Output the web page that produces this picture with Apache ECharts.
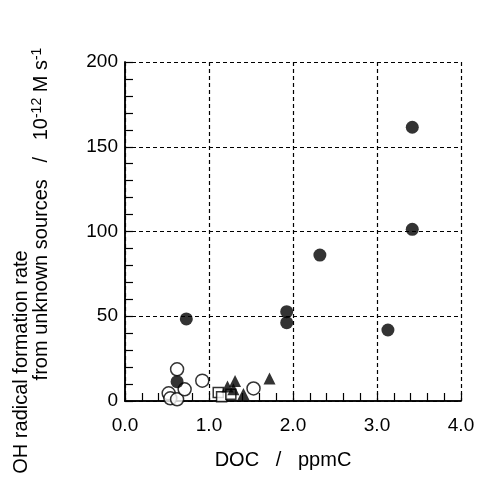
<!DOCTYPE html>
<html>
<head>
<meta charset="utf-8">
<script src="https://cdn.jsdelivr.net/npm/echarts@6/dist/echarts.min.js"></script>
<style>
html,body{margin:0;padding:0;background:#fff;}
#c{width:478px;height:482px;}
</style>
</head>
<body>
<div id="c"></div>
<script>
// Data
const openCircleX = [0.62, 0.52, 0.54, 0.62, 0.71, 0.92, 1.53];
const openCircleY = [18.7, 4.5, 1.6, 1.0, 6.9, 12.0, 7.4];
const filledCircleX = [0.62, 0.73, 1.925, 1.925, 2.32, 3.13, 3.42, 3.42];
const filledCircleY = [11.4, 48.4, 52.7, 46.2, 86.1, 41.9, 101.3, 161.5];
const squareX = [1.11, 1.15, 1.26];
const squareY = [5.0, 2.5, 4.0];
const triangleX = [1.22, 1.31, 1.29, 1.41, 1.72];
const triangleY = [8.6, 11.8, 7.0, 4.2, 13.3];

const xTicks = [0, 1, 2, 3, 4];
const yTicks = [0, 50, 100, 150, 200];
const xMinorStep = 0.2;
const yMinorStep = 10;

const xName = 'DOC   /   ppmC';
const yNameLine1 = 'OH radical formation rate';
const yNameLine2 = '{a|from unknown sources   /   10}{s|-12}{a| M s}{s|-1}';

function pairs(xs, ys) { return xs.map((x, i) => [x, ys[i]]); }

const FONT = '"Liberation Sans", Arial, Helvetica, sans-serif';
const axisLine = { show: true, lineStyle: { color: '#000', width: 1.5 } };
const gridRect = { left: 125, right: 17, top: 62, bottom: 81, containLabel: false };
const xMin = xTicks[0], xMax = xTicks[xTicks.length - 1];
const yMin = yTicks[0], yMax = yTicks[yTicks.length - 1];
const TICK_LEN = 4;

// Tick-only axes: shifted inward by the tick length so that the (outward)
// ticks end exactly on the frame, i.e. they appear as inside ticks.
function tickAxis(kind, gridIndex, position, step) {
  return {
    type: 'value', gridIndex: gridIndex, position: position, offset: -TICK_LEN,
    min: kind === 'x' ? xMin : yMin, max: kind === 'x' ? xMax : yMax, interval: step,
    axisLine: { show: false },
    axisTick: { show: true, inside: false, length: TICK_LEN, lineStyle: { color: '#000', width: 1.2 } },
    splitLine: { show: false },
    axisLabel: { show: false }
  };
}

function frameAxis(kind, gridIndex, position) {
  return {
    type: 'value', gridIndex: gridIndex, position: position,
    min: kind === 'x' ? xMin : yMin, max: kind === 'x' ? xMax : yMax,
    axisLine: axisLine, axisTick: { show: false }, splitLine: { show: false }, axisLabel: { show: false }
  };
}

const chart = echarts.init(document.getElementById('c'), null, { renderer: 'canvas' });
chart.setOption({
  backgroundColor: '#fff',
  animation: false,
  grid: [Object.assign({}, gridRect), Object.assign({}, gridRect), Object.assign({}, gridRect)],
  xAxis: [{
    type: 'value', gridIndex: 0, min: xMin, max: xMax, interval: 1,
    position: 'bottom',
    axisLine: axisLine,
    axisTick: { show: false },
    splitLine: { show: true, lineStyle: { color: '#000', type: [4, 3], width: 1.2 } },
    axisLabel: { margin: 15, color: '#000', fontSize: 19, fontFamily: FONT, formatter: v => v.toFixed(1) },
    name: xName, nameLocation: 'middle', nameGap: 49,
    nameTextStyle: { color: '#000', fontSize: 20, fontFamily: FONT, padding: [0, 20, 0, 0] }
  },
  tickAxis('x', 1, 'bottom', xMinorStep),
  tickAxis('x', 1, 'top', xMinorStep),
  frameAxis('x', 2, 'top')],
  yAxis: [{
    type: 'value', gridIndex: 0, min: yMin, max: yMax, interval: 50,
    position: 'left',
    axisLine: axisLine,
    axisTick: { show: false },
    splitLine: { show: true, lineStyle: { color: '#000', type: [4, 3], width: 1.2 } },
    axisLabel: { margin: 7, color: '#000', fontSize: 19, fontFamily: FONT }
  },
  tickAxis('y', 1, 'left', yMinorStep),
  tickAxis('y', 1, 'right', yMinorStep),
  frameAxis('y', 2, 'right')],
  graphic: [{
    type: 'text', x: 21, y: 362, rotation: Math.PI / 2,
    style: { text: yNameLine1, font: '20px ' + FONT, fill: '#000', textAlign: 'center', textVerticalAlign: 'middle' }
  }, {
    type: 'text', x: 41, y: 214, rotation: Math.PI / 2,
    style: {
      text: yNameLine2, fill: '#000', textAlign: 'center', textVerticalAlign: 'middle',
      font: '20px ' + FONT,
      rich: {
        a: { fontSize: 20, fontFamily: FONT, fill: '#000', lineHeight: 22 },
        s: { fontSize: 14, fontFamily: FONT, fill: '#000', verticalAlign: 'top', lineHeight: 22 }
      }
    }
  }],
  series: [{
    type: 'scatter', xAxisIndex: 0, yAxisIndex: 0,
    data: pairs(openCircleX, openCircleY), symbol: 'circle', symbolSize: 13,
    itemStyle: { color: '#fff', borderColor: '#000', borderWidth: 1.5 }, z: 3
  }, {
    type: 'scatter', xAxisIndex: 0, yAxisIndex: 0,
    data: pairs(filledCircleX, filledCircleY), symbol: 'circle', symbolSize: 13,
    itemStyle: { color: '#000' }, z: 4
  }, {
    type: 'scatter', xAxisIndex: 0, yAxisIndex: 0,
    data: pairs(squareX, squareY), symbol: 'rect', symbolSize: 10,
    itemStyle: { color: '#fff', borderColor: '#000', borderWidth: 1.5 }, z: 5
  }, {
    type: 'scatter', xAxisIndex: 0, yAxisIndex: 0,
    data: pairs(triangleX, triangleY), symbol: 'triangle', symbolSize: 12,
    itemStyle: { color: '#000' }, z: 6
  }]
});
</script>
</body>
</html>
